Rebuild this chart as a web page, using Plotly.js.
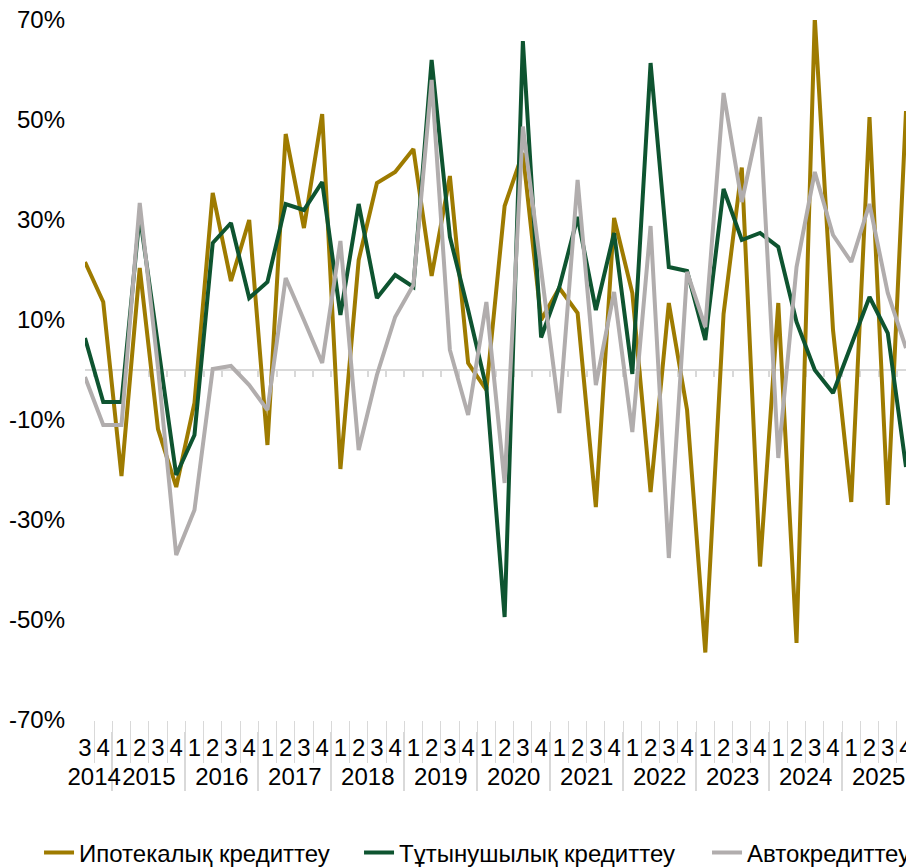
<!DOCTYPE html>
<html>
<head>
<meta charset="utf-8">
<script src="https://cdn.plot.ly/plotly-3.0.1.min.js"></script>
<style>
  html, body { margin: 0; padding: 0; background: #ffffff; }
  #chart { width: 906px; height: 867px; }
</style>
</head>
<body>
<div id="chart"></div>
<script>
// Category labels (year / quarter).
// The two 2014 quarters carry a zero-width prefix so Plotly's multicategory
// ordering keeps quarters 1-4 in order for every later year.
const years = ['2014','2014',
  '2015','2015','2015','2015',
  '2016','2016','2016','2016',
  '2017','2017','2017','2017',
  '2018','2018','2018','2018',
  '2019','2019','2019','2019',
  '2020','2020','2020','2020',
  '2021','2021','2021','2021',
  '2022','2022','2022','2022',
  '2023','2023','2023','2023',
  '2024','2024','2024','2024',
  '2025','2025','2025','2025'];
const quarters = ['\u200B3','\u200B4',
  '1','2','3','4', '1','2','3','4', '1','2','3','4', '1','2','3','4',
  '1','2','3','4', '1','2','3','4', '1','2','3','4', '1','2','3','4',
  '1','2','3','4', '1','2','3','4', '1','2','3','4'];

// Series values (%)
const mortgage = [21.6, 13.6, -21.2, 20.4, -11.8, -23.4, -6.6, 35.4, 17.8, 30,
  -15, 47.2, 28.4, 51.2, -19.8, 22, 37.4, 39.6, 44.2, 18.8,
  38.8, 1.4, -4, 32.8, 43.4, 10, 16.4, 11.4, -27.4, 30.4,
  15.4, -24.4, 13.4, -8, -56.5, 11.2, 40.5, -39.3, 13.4, -54.6,
  70.5, 8, -26.4, 50.6, -27, 51.8];
const consumer = [6.4, -6.4, -6.4, 31, 5, -21, -13, 25.4, 29.4, 14.4,
  17.6, 33.2, 32, 37.6, 11, 33.2, 14.4, 19, 16.6, 62,
  26.6, 12, -3.5, -49.4, 65.8, 6.5, 16.6, 30.6, 12, 27.4,
  -0.8, 61.4, 20.6, 19.8, 6, 36.2, 26, 27.4, 24.6, 9.6,
  0, -4.6, 5, 14.6, 7.4, -19.4];
const auto = [-1.4, -11, -11, 33.4, 0.5, -37, -28, 0.2, 0.8, -3,
  -8, 18.4, 10, 1.4, 25.8, -16, -1, 10.6, 17, 58,
  4, -9, 13.6, -22.6, 48.7, 20, -8.6, 38, -3, 15.6,
  -12.4, 28.8, -37.6, 19.6, 8.6, 55.4, 33.6, 50.6, -17.6, 20.6,
  39.6, 27, 21.6, 33.2, 15.4, 4.4];

const names = ['Ипотекалық кредиттеу', 'Тұтынушылық кредиттеу', 'Автокредиттеу'];
const colors = ['#9E7B00', '#0E5430', '#B1ADAD'];

const xMulti = [years, quarters];
const xFlat = years.map((y, i) => y + ' Q' + quarters[i]);
const FONT = 'Liberation Sans, Arial, sans-serif';
const FS = 24;

// Plot area: top 20px, axis labels start 11px below the y-range bottom
const H = 867, MT = 20, MB = 136;
const plotH = H - MT - MB;            // 711
const yDom0 = 11 / plotH;             // y-range bottom sits 11px above the label axis
const zeroPos = yDom0 + 0.5 * (1 - yDom0);

const traces = [
  { x: xFlat, y: mortgage, xaxis: 'x2', yaxis: 'y', type: 'scatter', mode: 'lines',
    opacity: 0, showlegend: false, hoverinfo: 'skip' },
  { x: xFlat, y: mortgage, xaxis: 'x3', yaxis: 'y', type: 'scatter', mode: 'lines',
    opacity: 0, showlegend: false, hoverinfo: 'skip' },
  { x: xMulti, y: mortgage, name: names[0], type: 'scatter', mode: 'lines',
    line: { color: colors[0], width: 4 }, legendwidth: 275 },
  { x: xMulti, y: consumer, name: names[1], type: 'scatter', mode: 'lines',
    line: { color: colors[1], width: 4 }, legendwidth: 303 },
  { x: xMulti, y: auto, name: names[2], type: 'scatter', mode: 'lines',
    line: { color: colors[2], width: 4 }, legendwidth: 165 }
];

const layout = {
  width: 906, height: H,
  margin: { l: 85, r: 0, t: MT, b: MB, autoexpand: false },
  paper_bgcolor: '#ffffff', plot_bgcolor: '#ffffff',
  font: { family: FONT, size: FS, color: '#000000' },
  showlegend: true,
  legend: {
    orientation: 'h', x: -0.056, xanchor: 'left', y: -(853 - (H - MB)) / plotH, yanchor: 'middle',
    font: { family: FONT, size: FS, color: '#000000' },
    traceorder: 'normal', bgcolor: 'rgba(0,0,0,0)'
  },
  xaxis: {
    type: 'multicategory', anchor: 'free', position: 0, side: 'bottom',
    showgrid: false, zeroline: false, showline: false,
    ticks: '', tickangle: 0, tickmode: 'linear', dtick: 1, nticks: 100,
    showdividers: true, dividercolor: '#d9d9d9', dividerwidth: 2,
    tickfont: { family: FONT, size: FS, color: '#000000' },
    fixedrange: true
  },
  xaxis2: {
    type: 'category', overlaying: 'x', anchor: 'free', position: zeroPos, side: 'bottom',
    showline: true, linecolor: '#d9d9d9', linewidth: 2,
    ticks: 'outside', tickson: 'boundaries', ticklen: 6, tickwidth: 2, tickcolor: '#d9d9d9',
    tickmode: 'linear', dtick: 1,
    showticklabels: false, showgrid: false, zeroline: false, layer: 'below traces'
  },
  xaxis3: {
    type: 'category', overlaying: 'x', anchor: 'y', side: 'bottom',
    showline: false, ticks: 'outside', tickson: 'boundaries', ticklen: 42, tickwidth: 1,
    tickcolor: '#d9d9d9', tickmode: 'linear', dtick: 1,
    showticklabels: false, showgrid: false, zeroline: false
  },
  yaxis: {
    domain: [yDom0, 1],
    range: [-70, 70], tickmode: 'array',
    tickvals: [-70, -50, -30, -10, 10, 30, 50, 70],
    ticktext: ['-70%', '-50%', '-30%', '-10%', '10%', '30%', '50%', '70%'],
    showgrid: false, zeroline: false, showline: false, ticks: '',
    ticklabelstandoff: 19,
    tickfont: { family: FONT, size: FS, color: '#000000' },
    fixedrange: true
  }
};

Plotly.newPlot('chart', traces, layout, { displayModeBar: false, staticPlot: true });
</script>
</body>
</html>
